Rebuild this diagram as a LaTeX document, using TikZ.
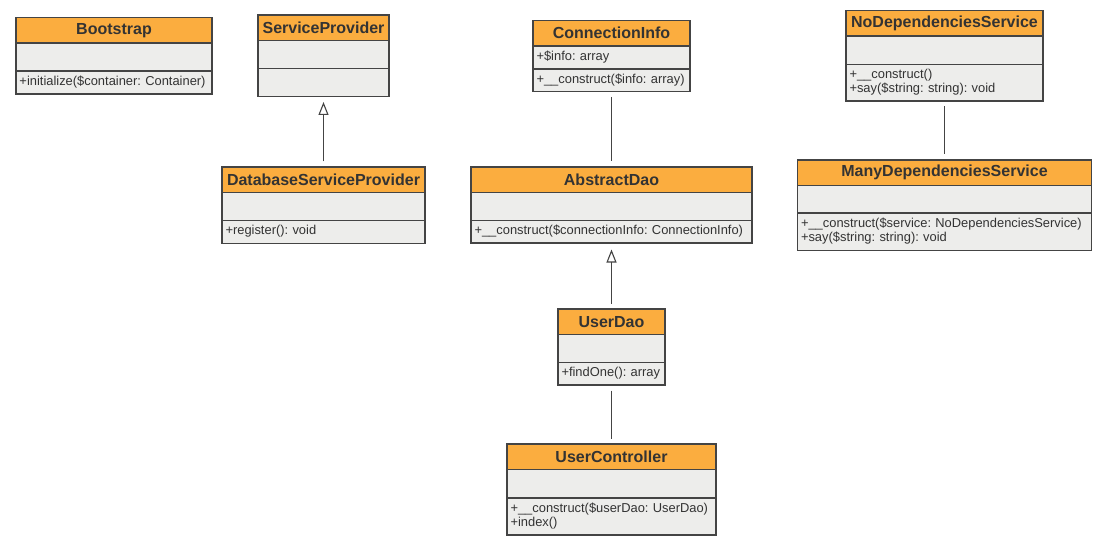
\documentclass[tikz,border=0pt]{standalone}
\usepackage{fontspec}
\setmainfont{Liberation Sans}
\usetikzlibrary{arrows.meta}
\definecolor{headc}{HTML}{FBAD3F}
\definecolor{bodyc}{HTML}{EDEDEB}
\definecolor{linec}{HTML}{444444}
\definecolor{textc}{HTML}{333333}
\frenchspacing
\tikzset{
  box/.style={draw=linec, line width=1.1pt, anchor=north west, inner sep=0pt, outer sep=0pt},
  head/.style={box, fill=headc, text=textc, font=\bfseries\fontsize{16}{18}\selectfont},
  row/.style={box, fill=bodyc, text=textc, align=left, inner xsep=3.5pt,
    font=\fontsize{12.9}{14}\selectfont},
  link/.style={draw=linec, line width=1.1pt, shorten <=5.5pt, shorten >=5.5pt},
  inherit/.style={link, -{Triangle[open, length=13pt, width=10pt, fill=white]}},
}
% member lines, set unbroken
\newcommand\members[1]{\begin{tabular}{@{}l@{}}#1\end{tabular}}
% #1 name, #2 top-left corner, #3 width, #4 title,
% #5 attribute row height, #6 attributes, #7 method row height, #8 methods
\newcommand\umlclass[8]{%
  \pgfmathsetmacro\clsw{#3-7}%
  \node[head, minimum width=#3pt, minimum height=25.5pt] (#1-h) at #2 {#4};
  \node[row, text width=\clsw pt, minimum height=#5pt] (#1-a) at (#1-h.south west) {\members{#6}};
  \node[row, text width=\clsw pt, minimum height=#7pt] (#1-m) at (#1-a.south west) {\members{#8}};
}
\begin{document}
\begin{tikzpicture}[x=1pt, y=-1pt]
  \fill[white] (0,0) rectangle (1107,545);
  \useasboundingbox (0,0) rectangle (1107,545);

  \umlclass{bs}{(16,17.5)}{196}{Bootstrap}{28}{}{23}{+initialize(\$container: Container)}
  \umlclass{sp}{(258,15)}{131}{ServiceProvider}{28}{}{28}{}
  \umlclass{dsp}{(222,167)}{203}{DatabaseServiceProvider}{28}{}{23}{+register(): void}
  \umlclass{ci}{(533,20.5)}{157}{ConnectionInfo}{23}{+\$info: array}{22.5}{+\_\_construct(\$info: array)}
  \umlclass{ad}{(471,167)}{281}{AbstractDao}{28}{}{22.5}{+\_\_construct(\$connectionInfo: ConnectionInfo)}
  \umlclass{ud}{(558,309)}{107}{UserDao}{28}{}{22.5}{+findOne(): array}
  \umlclass{uc}{(507,444)}{209}{UserController}{28.5}{}{37}{+\_\_construct(\$userDao: UserDao)\\+index()}
  \umlclass{nd}{(846,10.5)}{197}{NoDependenciesService}{28.5}{}{36.5}{+\_\_construct()\\+say(\$string: string): void}
  \umlclass{md}{(797.5,160)}{294}{ManyDependenciesService}{27.5}{}{37.5}{+\_\_construct(\$service: NoDependenciesService)\\+say(\$string: string): void}

  \draw[inherit] (dsp-h.north) -- (sp-m.south);
  \draw[link] (ci-m.south) -- (ad-h.north);
  \draw[inherit] (ud-h.north) -- ([yshift=-1pt]ad-m.south);
  \draw[link] (ud-m.south) -- (uc-h.north);
  \draw[link] (nd-m.south) -- (md-h.north);
\end{tikzpicture}
\end{document}
